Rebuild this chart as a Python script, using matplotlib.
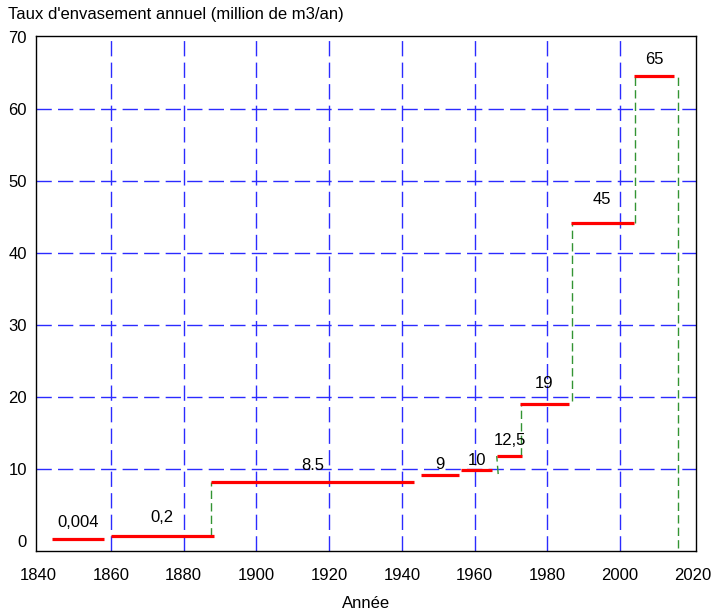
import matplotlib.pyplot as plt

plt.rcParams['font.family'] = ['Liberation Sans', 'DejaVu Sans']
plt.rcParams['lines.scale_dashes'] = False

# red steps: start year, end year, drawn height, printed value
seg_start = [1843.8, 1860.0, 1887.5, 1945.3, 1956.4, 1966.1, 1972.6, 1986.4, 2003.9]
seg_end = [1858.1, 1888.3, 1943.3, 1955.7, 1964.9, 1973.1, 1985.9, 2003.9, 2014.9]
seg_value = [0.3, 0.7, 8.2, 9.1, 9.8, 11.8, 19.0, 44.2, 64.6]
seg_label = ['0,004', '0,2', '8.5', '9', '10', '12,5', '19', '45', '65']

# green dashed risers between steps
rise_x_top = [1887.6, 1966.1, 1972.8, 1986.9, 2004.1, 2015.9]
rise_x_bot = [1887.6, 1966.5, 1972.8, 1986.9, 2004.1, 2015.9]
rise_low = [0.7, 9.3, 11.8, 19.5, 44.2, -1.0]
rise_high = [8.2, 11.8, 19.0, 44.2, 64.6, 64.6]

x_ticks = list(range(1840, 2021, 20))
y_ticks = list(range(0, 71, 10))

# label offset above each step (points)
label_dy = [11.5, 13, 12, 8, 7, 11.5, 15, 17, 12]


def plot():
	fig = plt.figure(figsize=(7.17, 6.14), dpi=100)
	ax = fig.add_axes([36 / 717, 1 - 551 / 614, 660 / 717, 515 / 614])

	blue = dict(color='#2b2bff', lw=1.0, dashes=[11, 4.5], zorder=1)
	for x in x_ticks[1:-1]:
		ax.axvline(x, **blue)
	for y in y_ticks[1:-1]:
		ax.axhline(y, **blue)

	for xt, xb, lo, hi in zip(rise_x_top, rise_x_bot, rise_low, rise_high):
		ax.plot([xb, xt], [lo, hi], color='#339433', lw=1.0, dashes=[6, 3], zorder=2)

	for x0, x1, v, lab, dy in zip(seg_start, seg_end, seg_value, seg_label, label_dy):
		ax.plot([x0, x1], [v, v], color='#ff0000', lw=2.3, solid_capstyle='butt', zorder=3)
		ax.annotate(lab, ((x0 + x1) / 2, v), xytext=(0, dy), textcoords='offset points',
					ha='center', va='center', fontsize=12, zorder=4)

	ax.set_xlim(1839.4, 2020.9)
	ax.set_ylim(-1.4, 70.2)
	ax.set_xticks(x_ticks)
	ax.set_yticks(y_ticks)
	ax.tick_params(length=0, labelsize=12)
	ax.tick_params(axis='x', pad=12.5)
	ax.tick_params(axis='y', pad=6.5)
	for s in ax.spines.values():
		s.set_linewidth(1.0)

	ax.set_xlabel('Année', fontsize=12, labelpad=9)
	fig.text(8 / 717, 1 - 14 / 614, "Taux d'envasement annuel (million de m3/an)",
			 ha='left', va='center', fontsize=12)

	fig.savefig('out.png', dpi=100)


def main():
	plot()
if __name__ == "__main__":
	main()
